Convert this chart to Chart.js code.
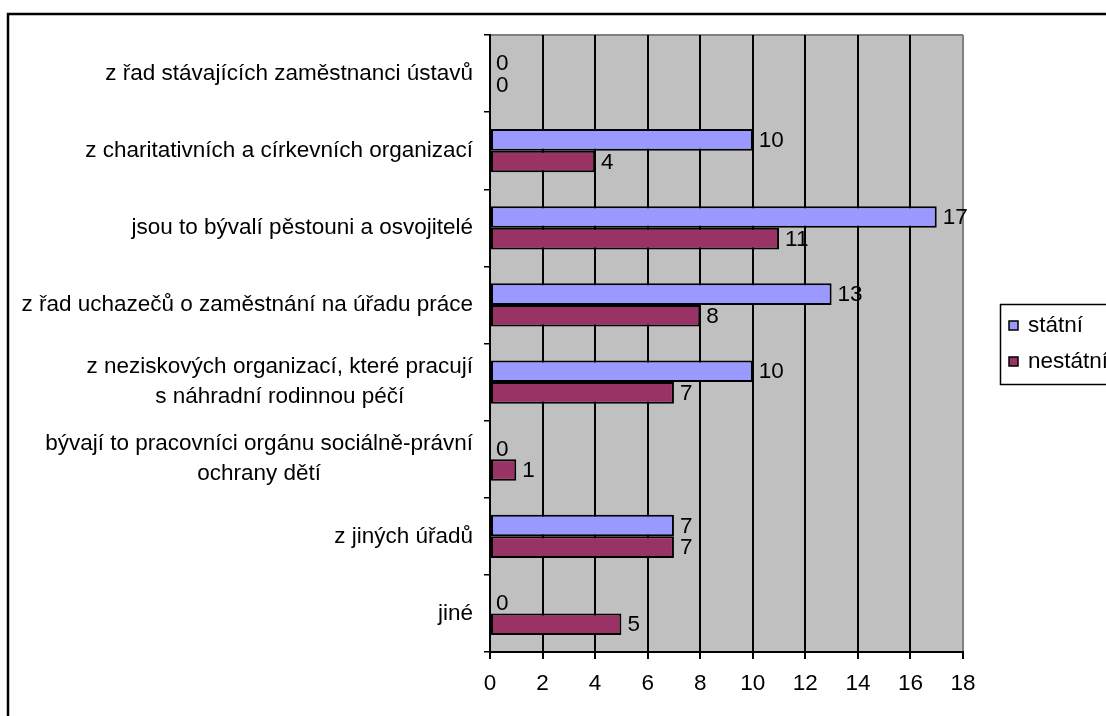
<!DOCTYPE html>
<html>
<head>
<meta charset="utf-8">
<script src="https://cdn.jsdelivr.net/npm/chart.js@4/dist/chart.umd.min.js"></script>
<style>
  body { margin: 0; background: #fff; }
  #wrap { width: 1106px; height: 716px; }
</style>
</head>
<body>
<div id="wrap"><canvas id="chart" width="1106" height="716"></canvas></div>
<script>
const categories = [
  'z řad stávajících zaměstnanci ústavů',
  'z charitativních a církevních organizací',
  'jsou to bývalí pěstouni a osvojitelé',
  'z řad uchazečů o zaměstnání na úřadu práce',
  ['z neziskových organizací, které pracují', 's náhradní rodinnou péčí'],
  ['bývají to pracovníci orgánu sociálně-právní', 'ochrany dětí'],
  'z jiných úřadů',
  'jiné'
];
const seriesNames = ['státní', 'nestátní'];
const statniValues = [0, 10, 17, 13, 10, 0, 7, 0];
const nestatniValues = [0, 4, 11, 8, 7, 1, 7, 5];
const xTicks = [0, 2, 4, 6, 8, 10, 12, 14, 16, 18];

const FONT = '22.5px "Liberation Sans", Arial, sans-serif';
Chart.defaults.font.family = '"Liberation Sans", Arial, sans-serif';
Chart.defaults.font.size = 22.5;
Chart.defaults.color = '#000';

const ctx = document.getElementById('chart').getContext('2d');

// gray plot background + top border
const plotBackground = {
  id: 'plotBackground',
  beforeDraw(chart) {
    const a = chart.chartArea;
    const c = chart.ctx;
    c.save();
    c.fillStyle = '#c0c0c0';
    c.fillRect(a.left, a.top, a.right - a.left, a.bottom - a.top);
    c.strokeStyle = '#808080';
    c.lineWidth = 2;
    c.beginPath();
    c.moveTo(a.left, a.top);
    c.lineTo(a.right, a.top);
    c.stroke();
    c.restore();
  }
};

// category labels, lines centred inside a right aligned block
const categoryLabels = {
  id: 'categoryLabels',
  afterDraw(chart) {
    const c = chart.ctx;
    const y = chart.scales.y;
    c.save();
    c.font = FONT;
    c.fillStyle = '#000';
    c.textAlign = 'center';
    c.textBaseline = 'middle';
    const lh = 30;
    chart.data.labels.forEach((label, i) => {
      const lines = Array.isArray(label) ? label : [label];
      const w = Math.max(...lines.map(l => c.measureText(l).width));
      const cx = 473 - w / 2;
      const cy = y.getPixelForValue(i);
      lines.forEach((l, j) => {
        c.fillText(l, cx, cy + (j - (lines.length - 1) / 2) * lh);
      });
    });
    c.restore();
  }
};

// value labels to the right of each bar
const valueLabels = {
  id: 'valueLabels',
  afterDatasetsDraw(chart) {
    const c = chart.ctx;
    c.save();
    c.font = FONT;
    c.fillStyle = '#000';
    c.textAlign = 'left';
    c.textBaseline = 'middle';
    chart.data.datasets.forEach((ds, di) => {
      chart.getDatasetMeta(di).data.forEach((bar, i) => {
        c.fillText(String(ds.data[i]), bar.x + 6, bar.y + 1);
      });
    });
    c.restore();
  }
};

// boxed legend + outer frame
const boxLegend = {
  id: 'boxLegend',
  afterDraw(chart) {
    const c = chart.ctx;
    c.save();
    c.strokeStyle = '#000';
    c.lineWidth = 1.5;
    c.strokeRect(1000.5, 304.5, 120, 80);
    c.font = FONT;
    c.textBaseline = 'middle';
    chart.data.datasets.forEach((ds, i) => {
      const y = 326 + i * 36;
      c.fillStyle = ds.backgroundColor;
      c.fillRect(1009, y - 5, 9, 9);
      c.lineWidth = 1.5;
      c.strokeRect(1009, y - 5, 9, 9);
      c.fillStyle = '#000';
      c.fillText(ds.label, 1028, y);
    });
    // outer frame
    c.lineWidth = 2.5;
    c.beginPath();
    c.moveTo(8, 716);
    c.lineTo(8, 14);
    c.lineTo(1106, 14);
    c.stroke();
    c.restore();
  }
};

new Chart(ctx, {
  type: 'bar',
  data: {
    labels: categories,
    datasets: [
      {
        label: seriesNames[0],
        data: statniValues,
        backgroundColor: '#9999ff',
        borderColor: '#000',
        borderWidth: 2,
        borderSkipped: false,
        categoryPercentage: 0.56,
        barPercentage: 1.0
      },
      {
        label: seriesNames[1],
        data: nestatniValues,
        backgroundColor: '#993366',
        borderColor: '#000',
        borderWidth: 2,
        borderSkipped: false,
        categoryPercentage: 0.56,
        barPercentage: 1.0
      }
    ]
  },
  options: {
    indexAxis: 'y',
    responsive: false,
    animation: false,
    layout: {
      padding: { top: 35, right: 143, bottom: 0, left: 0 }
    },
    plugins: {
      legend: { display: false },
      tooltip: { enabled: false }
    },
    scales: {
      x: {
        min: 0,
        max: 18,
        afterBuildTicks: (scale) => {
          scale.ticks = xTicks.map(v => ({ value: v }));
        },
        afterFit: (scale) => { scale.height = 64; },
        grid: {
          color: (c) => c.index === xTicks.length - 1 ? '#808080' : '#000',
          lineWidth: 2,
          tickColor: '#000',
          tickLength: 7
        },
        border: { color: '#000', width: 2 },
        ticks: { padding: 11 }
      },
      y: {
        afterFit: (scale) => { scale.width = 490; },
        grid: {
          drawOnChartArea: false,
          color: '#000',
          tickLength: 6,
          lineWidth: 1.5
        },
        border: { color: '#000', width: 2 },
        ticks: { display: false }
      }
    }
  },
  plugins: [plotBackground, valueLabels, categoryLabels, boxLegend]
});
</script>
</body>
</html>
